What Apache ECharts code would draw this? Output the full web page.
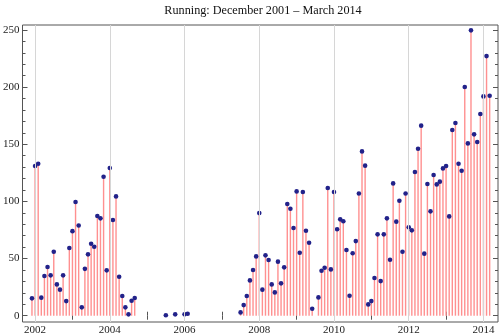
<!DOCTYPE html>
<html><head><meta charset="utf-8">
<script src="https://cdn.jsdelivr.net/npm/echarts@6/dist/echarts.min.js"></script>
<style>html,body{margin:0;padding:0;background:#fff}#c{width:500px;height:336px}</style>
</head><body><div id="c"></div>
<script>
const title = 'Running: December 2001 \u2013 March 2014';
const months = [
 '2001-12',
 '2002-01','2002-02','2002-03','2002-04','2002-05','2002-06','2002-07','2002-08','2002-09','2002-10','2002-11','2002-12',
 '2003-01','2003-02','2003-03','2003-04','2003-05','2003-06','2003-07','2003-08','2003-09','2003-10','2003-11','2003-12',
 '2004-01','2004-02','2004-03','2004-04','2004-05','2004-06','2004-07','2004-08','2004-09',
 '2005-07','2005-10','2006-01','2006-02',
 '2007-07','2007-08','2007-09','2007-10','2007-11','2007-12',
 '2008-01','2008-02','2008-03','2008-04','2008-05','2008-06','2008-07','2008-08','2008-09','2008-10','2008-11','2008-12',
 '2009-01','2009-02','2009-03','2009-04','2009-05','2009-06','2009-08','2009-09','2009-10','2009-11','2009-12',
 '2010-01','2010-02','2010-03','2010-04','2010-05','2010-06','2010-07','2010-08','2010-09','2010-10','2010-11','2010-12',
 '2011-01','2011-02','2011-03','2011-04','2011-05','2011-06','2011-07','2011-08','2011-09','2011-10','2011-11','2011-12',
 '2012-01','2012-02','2012-03','2012-04','2012-05','2012-06','2012-07','2012-08','2012-09','2012-10','2012-11','2012-12',
 '2013-01','2013-02','2013-03','2013-04','2013-05','2013-06','2013-07','2013-08','2013-09','2013-10','2013-11','2013-12',
 '2014-01','2014-02','2014-03'
];
const miles = [
 15.2,
 131, 133, 15.8, 34.7, 42.6, 35.3, 56, 27.4, 22.8, 35.3, 12.8, 59.2,
 74, 99.5, 79, 7.3, 41, 53.7, 63, 60.4, 87.2, 85.2, 121.6, 39.7,
 129.2, 83.7, 104.4, 34.1, 17.2, 7.3, 1.2, 13.1, 15.5,
 0.4, 1.2, 1.2, 1.7,
 2.9, 9.3, 17.2, 30.9, 40, 51.9,
 89.8, 22.8, 52.8, 48.7, 27.4, 20.4, 47.3, 28.3, 42.3, 97.7, 93.6, 76.7,
 108.8, 55.1, 108.2, 74.4, 63.9, 6.1, 16, 39.4, 42, 111.7, 40.5,
 108.2, 75.6, 84.3, 82.6, 57.5, 17.5, 54.6, 65.3, 107, 143.8, 131.3, 9.9,
 12.8, 33, 71.2, 30.3, 71.2, 85.2, 49, 115.8, 82.3, 100.6, 56, 107,
 77.3, 74.7, 125.7, 146.1, 166.3, 54.3, 115.2, 91.3, 123.1, 114.9, 117.3, 128.9,
 131, 86.9, 162.5, 168.6, 133, 126.9, 200.1, 150.8, 249.7, 158.7, 152, 176.5,
 191.9, 227.2, 192.5
];
const yearTicks = [2002,2003,2004,2005,2006,2007,2008,2009,2010,2011,2012,2013,2014];
const yearLabels = [2002,2004,2006,2008,2010,2012,2014];
const yMajor = [0,50,100,150,200,250];
const yMinor = [10,20,30,40,60,70,80,90,110,120,130,140,160,170,180,190,210,220,230,240];

function toYear(m){ const p = m.split('-').map(Number); return p[0] + (p[1]-1)/12; }
const pts = months.map((m,i)=>[toYear(m), miles[i]]);

const X_MIN = 2001.6633, X_MAX = 2014.3897, Y_MIN = -5.51, Y_MAX = 254.4;
const font = '"Liberation Serif", "DejaVu Serif", serif';
const tickColor = '#555';

function xAxisDef(pos, showLabel){
  return {type:'value', position:pos, min:X_MIN, max:X_MAX,
    axisLine:{show:false}, splitLine:{show:false},
    axisTick:{show:true, inside:true, length:4, customValues:yearTicks, lineStyle:{color:tickColor, width:1}},
    axisLabel:{show:showLabel, customValues:yearLabels, fontFamily:font, fontSize:11, color:'#222', margin:3, formatter:v=>String(v)}};
}
function yAxisDef(pos, vals, len, showLabel){
  return {type:'value', position:pos, min:Y_MIN, max:Y_MAX, offset:0,
    axisLine:{show:false}, splitLine:{show:false},
    axisTick:{show:true, inside:true, length:len, customValues:vals, lineStyle:{color:tickColor, width:1}},
    axisLabel:{show:showLabel, customValues:vals, fontFamily:font, fontSize:11, color:'#222', margin:3, formatter:v=>String(v)}};
}

const chart = echarts.init(document.getElementById('c'), null, {renderer:'canvas'});
chart.setOption({
  animation:false,
  backgroundColor:'#fff',
  title:{text:title, left:258, textAlign:'center', top:0, textStyle:{fontFamily:font, fontSize:12.2, fontWeight:'normal', color:'#111'}},
  grid:{left:18, right:2, top:25, bottom:14, show:true, borderColor:'#555', borderWidth:1, backgroundColor:'transparent'},
  xAxis:[xAxisDef('bottom', true), xAxisDef('top', false)],
  yAxis:[yAxisDef('left', yMajor, 5, true), yAxisDef('left', yMinor, 3, false),
         yAxisDef('right', yMajor, 5, false), yAxisDef('right', yMinor, 3, false)],
  series:[
    {type:'line', data:[], z:1, silent:true, xAxisIndex:0, yAxisIndex:0,
     markLine:{silent:true, symbol:['none','none'], label:{show:false},
       lineStyle:{color:'#d6d6d6', width:1, type:'solid'},
       data:yearLabels.map(y=>({xAxis:y}))}},
    {type:'custom', z:2, xAxisIndex:0, yAxisIndex:0, data:pts, encode:{x:0,y:1},
     renderItem:function(params, api){
       const x = api.value(0), v = api.value(1);
       const p0 = api.coord([x,0]), p1 = api.coord([x,v]);
       return {type:'line', shape:{x1:p0[0], y1:p0[1], x2:p1[0], y2:p1[1]},
               style:{stroke:'#ff9090', lineWidth:1.4}};
     }},
    {type:'scatter', z:3, xAxisIndex:0, yAxisIndex:0, data:pts, symbolSize:4.6,
     itemStyle:{color:'#22228a', opacity:1}}
  ]
});
</script>
</body></html>
